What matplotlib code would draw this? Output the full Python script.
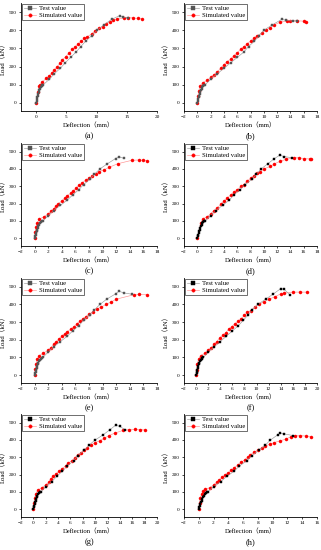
import matplotlib
matplotlib.use("Agg")
import matplotlib.pyplot as plt

plt.rcParams['font.family'] = ['Liberation Serif', 'Noto Sans CJK SC']

# initial dense part of the test curves (same for all specimens, roughly)
init_x = [0, 0.08, 0.15, 0.22, 0.3, 0.38, 0.46, 0.55, 0.65, 0.78, 0.92, 1.05, 1.2]
init_y = [0, 10, 20, 30, 40, 50, 60, 70, 78, 85, 92, 97, 100]

# (a)
test_a_x = init_x + [2.2, 3.0, 4.0, 4.8, 5.7, 6.6, 7.4, 8.2, 9.2, 10.1, 11.2, 12.5, 13.8, 14.3, 15.2]
test_a_y = init_y + [130, 160, 190, 220, 250, 280, 310, 340, 370, 400, 430, 460, 480, 472, 468]
sim_a_x = [0, 0.3, 0.5, 0.7, 1.0, 1.7, 2.2, 2.6, 3.0, 3.5, 4.0, 4.3, 4.9, 5.5, 6.0, 6.5, 7.0,
           7.5, 8.0, 8.5, 9.2, 9.8, 10.4, 11.0, 11.6, 12.2, 12.8, 13.3, 14.5, 15.2, 16.0, 16.8, 17.5]
sim_a_y = [0, 60, 90, 100, 115, 135, 150, 165, 180, 200, 220, 235, 255, 275, 295, 310, 325,
           340, 355, 365, 380, 395, 410, 420, 435, 445, 455, 460, 468, 470, 468, 465, 462]

# (b)
test_b_x = init_x + [2.0, 3.0, 4.0, 5.0, 6.0, 7.0, 7.7, 8.6, 9.3, 10.0, 11.3, 12.7, 13.3, 14.4, 15.0]
test_b_y = init_y + [130, 160, 190, 220, 250, 280, 310, 340, 370, 400, 430, 460, 455, 450, 452]
sim_b_x = [0, 0.1, 0.2, 0.4, 0.8, 1.5, 2.0, 2.5, 3.0, 3.5, 4.0, 4.4, 5.0, 5.5, 6.0, 6.5, 7.0,
           7.5, 8.0, 8.5, 9.0, 9.7, 10.3, 11.0, 11.6, 12.5, 13.5, 14.0, 15.0, 16.0, 16.3]
sim_b_y = [0, 35, 65, 90, 110, 125, 140, 155, 170, 190, 210, 225, 240, 260, 275, 295, 310,
           325, 340, 355, 370, 385, 400, 415, 430, 445, 450, 452, 452, 450, 447]

# (c)
test_c_x = init_x + [2.0, 2.8, 3.8, 4.8, 5.6, 6.5, 7.2, 8.1, 8.8, 9.6, 10.7, 11.9, 12.4, 13.1]
test_c_y = init_y + [130, 160, 190, 220, 250, 280, 310, 340, 370, 400, 430, 460, 470, 462]
sim_c_x = [0, 0.1, 0.2, 0.4, 0.7, 1.4, 2.0, 2.4, 2.8, 3.1, 3.5, 4.0, 4.4, 4.8, 5.3, 5.7, 6.1,
           6.5, 7.0, 7.5, 8.0, 8.5, 9.0, 9.5, 10.2, 11.0, 12.2, 14.3, 15.3, 16.0, 16.6]
sim_c_y = [0, 35, 65, 90, 110, 125, 140, 155, 170, 185, 200, 215, 230, 245, 260, 275, 290,
           305, 320, 335, 345, 360, 370, 385, 395, 410, 430, 450, 452, 450, 448]

# (d)
test_d_x = init_x + [2.0, 2.8, 3.8, 4.8, 5.5, 6.4, 7.2, 8.2, 8.9, 9.6, 10.6, 11.6, 12.4, 13.0, 14.2]
test_d_y = init_y + [130, 160, 190, 220, 250, 280, 310, 340, 370, 400, 430, 460, 480, 472, 465]
sim_d_x = [0, 0.5, 0.8, 1.5, 2.0, 2.5, 3.0, 3.5, 4.0, 4.5, 5.0, 5.5, 6.0, 6.6, 7.0, 7.5, 8.0,
           8.5, 9.0, 9.5, 10.0, 11.0, 11.6, 12.5, 13.3, 14.5, 15.3, 16.0, 16.9, 17.1]
sim_d_y = [0, 85, 110, 125, 140, 160, 175, 195, 215, 230, 250, 265, 280, 300, 310, 330, 345,
           360, 375, 385, 400, 415, 430, 445, 455, 465, 465, 460, 458, 458]

# (e)
test_e_x = init_x + [2.0, 2.8, 3.8, 4.8, 5.6, 6.5, 7.2, 8.1, 8.8, 9.6, 10.6, 11.9, 12.4, 13.1, 14.3]
test_e_y = init_y + [130, 160, 190, 220, 250, 280, 310, 340, 370, 400, 430, 460, 475, 466, 458]
sim_e_x = [0, 0.1, 0.2, 0.4, 0.7, 1.3, 2.0, 2.4, 2.8, 3.2, 3.6, 4.0, 4.4, 4.8, 5.3, 5.8, 6.2,
           6.7, 7.1, 7.5, 8.0, 8.6, 9.2, 9.8, 10.5, 11.3, 12.0, 14.6, 15.4, 16.6]
sim_e_y = [0, 35, 65, 90, 110, 125, 140, 155, 175, 190, 205, 220, 235, 245, 260, 275, 290,
           305, 320, 330, 345, 360, 375, 385, 400, 415, 430, 455, 458, 455]

# (f)
test_f_x = init_x + [2.0, 3.0, 4.0, 5.0, 6.0, 7.0, 7.8, 8.6, 9.3, 10.2, 11.5, 12.8, 14.0, 14.6, 15.5]
test_f_y = init_y + [130, 160, 190, 220, 250, 280, 310, 340, 370, 400, 430, 460, 490, 485, 455]
sim_f_x = [0, 0.1, 0.2, 0.4, 0.8, 1.5, 2.0, 2.5, 3.0, 3.4, 3.9, 4.4, 4.9, 5.4, 5.9, 6.4, 7.0,
           7.5, 8.0, 8.5, 9.0, 9.7, 10.4, 11.2, 12.1, 13.1, 14.0, 14.6, 16.0, 17.2, 18.3]
sim_f_y = [0, 30, 60, 90, 110, 125, 140, 155, 175, 190, 210, 225, 240, 260, 275, 290, 305,
           320, 340, 355, 365, 385, 400, 415, 430, 445, 460, 465, 470, 470, 470]

# (g)
test_g_x = init_x + [2.0, 3.0, 3.8, 4.7, 5.5, 6.5, 7.2, 8.2, 9.0, 10.0, 11.3, 12.4, 13.3, 14.0, 14.8]
test_g_y = init_y + [130, 160, 190, 220, 250, 280, 310, 340, 370, 400, 430, 460, 485, 478, 460]
sim_g_x = [0, 0.1, 0.2, 0.4, 0.7, 1.4, 2.0, 2.5, 2.8, 3.2, 3.7, 4.2, 4.7, 5.2, 5.6, 6.2, 6.7,
           7.2, 7.7, 8.2, 8.7, 9.3, 10.0, 10.7, 11.5, 12.2, 13.2, 14.5, 15.5, 16.5, 17.3, 18.0]
sim_g_y = [0, 35, 65, 90, 110, 125, 140, 155, 175, 190, 205, 220, 235, 250, 265, 280, 295,
           315, 325, 340, 355, 370, 385, 395, 410, 425, 440, 455, 460, 462, 460, 458]

# (h)
test_h_x = init_x + [2.0, 3.0, 3.8, 4.8, 5.5, 6.5, 7.2, 8.1, 9.0, 9.7, 10.7, 11.0, 11.6, 12.8]
test_h_y = init_y + [130, 160, 190, 220, 250, 280, 310, 340, 370, 400, 430, 440, 435, 425]
sim_h_x = [0, 0.1, 0.2, 0.4, 0.6, 0.9, 1.5, 2.0, 2.4, 2.8, 3.2, 3.6, 4.0, 4.4, 4.8, 5.3, 5.7,
           6.2, 6.6, 7.0, 7.5, 8.0, 8.5, 9.0, 9.6, 10.2, 11.0, 11.8, 12.5, 13.0, 13.7, 14.5, 15.2]
sim_h_y = [0, 35, 65, 90, 105, 115, 125, 140, 155, 170, 185, 200, 210, 225, 240, 255, 270,
           285, 300, 315, 330, 340, 355, 365, 375, 385, 395, 405, 420, 425, 425, 423, 420]

panel_labels = ["(a)", "(b)", "(c)", "(d)", "(e)", "(f)", "(g)", "(h)"]
tests = [(test_a_x, test_a_y), (test_b_x, test_b_y), (test_c_x, test_c_y), (test_d_x, test_d_y),
         (test_e_x, test_e_y), (test_f_x, test_f_y), (test_g_x, test_g_y), (test_h_x, test_h_y)]
sims = [(sim_a_x, sim_a_y), (sim_b_x, sim_b_y), (sim_c_x, sim_c_y), (sim_d_x, sim_d_y),
        (sim_e_x, sim_e_y), (sim_f_x, sim_f_y), (sim_g_x, sim_g_y), (sim_h_x, sim_h_y)]
x_ranges = [(-2.5, 20, 5), (-2, 18, 2), (-2, 18, 2), (-2, 18, 2),
            (-2, 18, 2), (-2, 20, 2), (-2, 20, 2), (-2, 16, 2)]
test_colors = ["#555555", "#555555", "#555555", "black", "#555555", "black", "black", "black"]

W, H = 321, 550
fig = plt.figure(figsize=(W / 100, H / 100), dpi=100)

# axes boxes in pixels: left, top, right, bottom
col_lr = [(21, 157), (184, 317)]
row_tb = [(3, 111), (143, 246), (278, 383), (414, 517)]

for i in range(8):
    r, c = divmod(i, 2)
    l, rr = col_lr[c]
    t, b = row_tb[r]
    ax = fig.add_axes([l / W, 1 - b / H, (rr - l) / W, (b - t) / H])
    tx, ty = tests[i]
    sx, sy = sims[i]
    ax.plot(tx, ty, color="#999999", lw=0.45, marker="s", ms=2.0,
            mfc=test_colors[i], mec=test_colors[i], mew=0.3, label="Test value", zorder=3)
    ax.plot(sx, sy, color="#ff9090", lw=0.45, marker="o", ms=2.2,
            mfc="red", mec="red", mew=0.3, label="Simulated value", zorder=2)
    x0, x1, step = x_ranges[i]
    ax.set_xlim(x0, x1)
    if step == 5:
        ax.set_xticks(range(0, 21, 5))
    else:
        ax.set_xticks(range(-2, int(x1) + 1, 2))
    ax.set_ylim(-45, 550)
    ax.set_yticks(range(0, 501, 100))
    for s in ["top", "right"]:
        ax.spines[s].set_visible(False)
    for s in ["left", "bottom"]:
        ax.spines[s].set_linewidth(0.6)
    ax.tick_params(labelsize=3.8, width=0.5, length=1.5, pad=1.5)
    ax.set_xlabel("Deflection（mm）", fontsize=4.8, labelpad=2)
    ax.set_ylabel("Load（kN）", fontsize=4.8, labelpad=2)
    leg = ax.legend(loc="upper left", fontsize=4.8, frameon=True, fancybox=False,
                    borderpad=0.3, handlelength=1.8, handletextpad=0.5,
                    labelspacing=0.2, borderaxespad=0.1, markerscale=1.1)
    leg.get_frame().set_edgecolor("black")
    leg.get_frame().set_linewidth(0.5)
    cx = (l + rr) / 2
    fig.text(cx / W, 1 - (b + 25) / H, panel_labels[i], ha="center", va="center", fontsize=6)

fig.savefig("out.png", dpi=100)
